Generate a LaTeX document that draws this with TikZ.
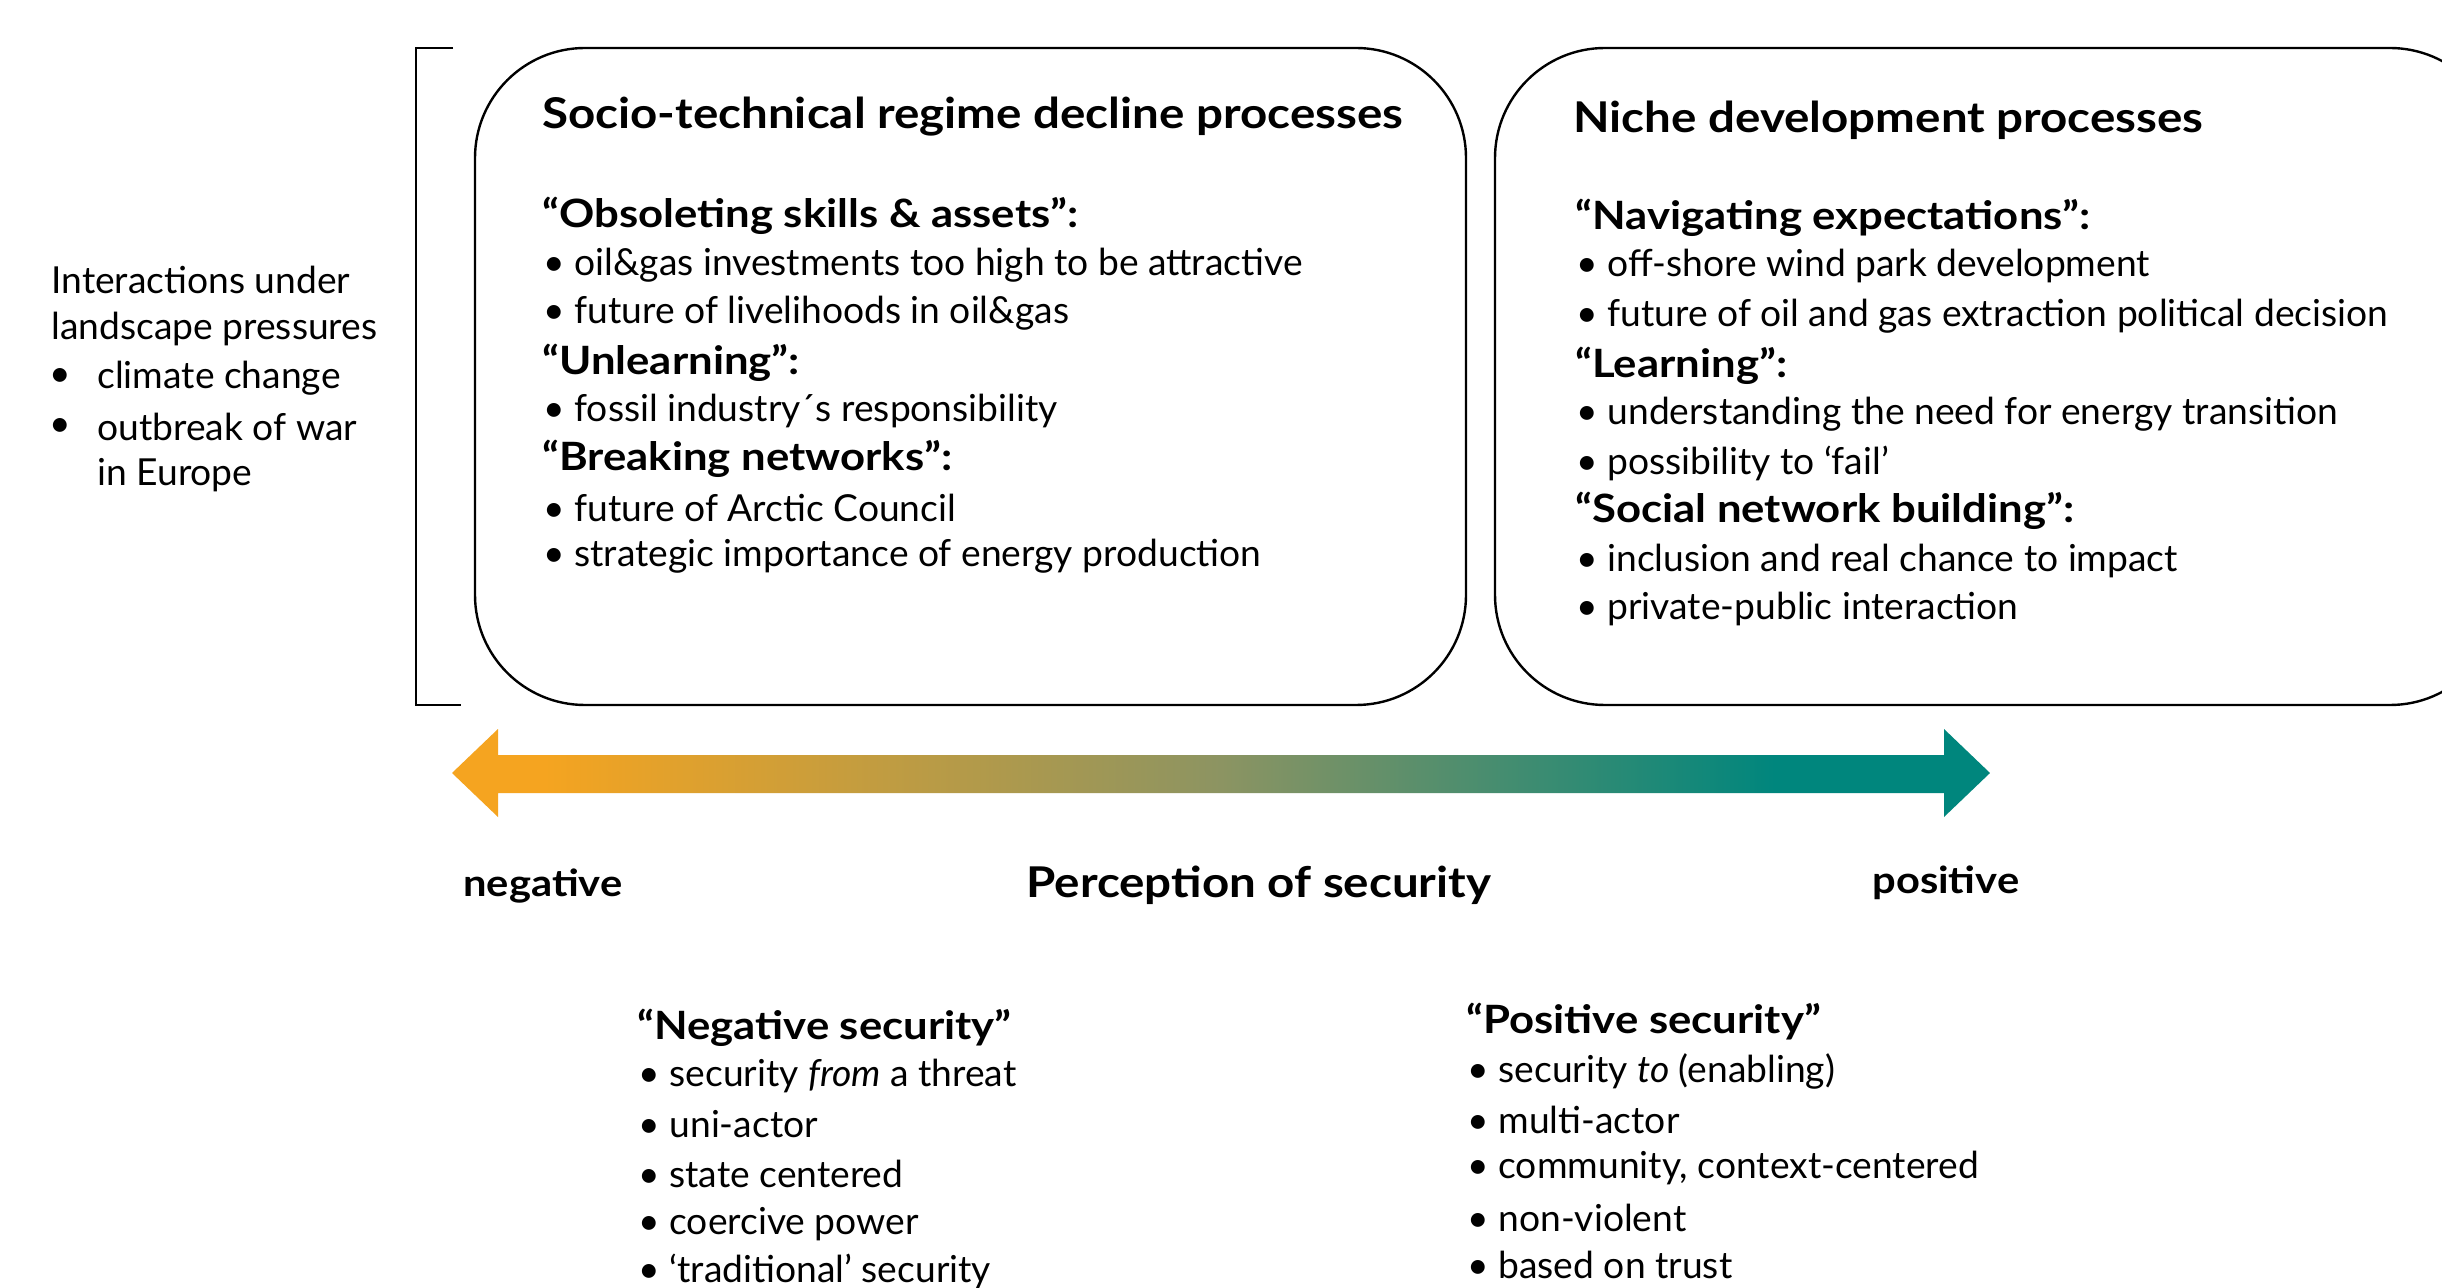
\documentclass[tikz,border=0pt]{standalone}
\usepackage{fontspec}
\setmainfont{Lato}[BoldFeatures={FakeStretch=1.12}]
\definecolor{arrO}{RGB}{245,164,32}
\definecolor{arrM}{RGB}{140,148,98}
\definecolor{arrT}{RGB}{0,134,125}
\pgfdeclarehorizontalshading{arrowshade}{100bp}{color(0bp)=(arrO); color(28bp)=(arrO); color(50bp)=(arrM); color(68bp)=(arrT); color(100bp)=(arrT)}
\begin{document}
\begin{tikzpicture}[x=0.5pt,y=-0.5pt,
  body/.style={anchor=west, inner sep=0pt, font=\fontsize{18.6}{22}\selectfont},
  head/.style={anchor=west, inner sep=0pt, font=\fontsize{19.5}{23}\selectfont\bfseries},
  axlab/.style={anchor=west, inner sep=0pt, font=\fontsize{18.6}{22}\selectfont\bfseries},
  ttl/.style={anchor=west, inner sep=0pt, font=\fontsize{21.2}{25}\selectfont\bfseries},
  procbox/.style={draw=black, line width=1.2pt, rounded corners=55pt, fill=white},
  brk/.style={draw=black, line width=1.2pt}]
\useasboundingbox (0,0) rectangle (2442,1288);
\clip (0,0) rectangle (2442,1288);
\fill[white] (0,0) rectangle (2442,1288);
% bracket
\coordinate (bT) at (453,48);
\coordinate (bB) at (461,705);
\draw[brk] (bT) -- (416,48) -- (416,705) -- (bB);
% boxes
\draw[procbox] (475,48) rectangle (1466,705);
\node[inner sep=0pt] (boxL) at (970,376) {};
\draw[procbox] (1495,48) rectangle (2500,705);
\node[inner sep=0pt] (boxR) at (1997,376) {};
% left box text
\node[ttl]  (lt)  at (542,117) {Socio-technical regime decline processes};
\node[head] (l1)  at (542,216) {“Obsoleting skills \& assets”:};
\node[body] (l2)  at (543,265) {• oil\&gas investments too high to be attractive};
\node[body] (l3)  at (543,313) {• future of livelihoods in oil\&gas};
\node[head] (l4)  at (542,363) {“Unlearning”:};
\node[body] (l5)  at (543,411) {• fossil industry´s responsibility};
\node[head] (l6)  at (542,459) {“Breaking networks”:};
\node[body] (l7)  at (543,508) {• future of Arctic Council};
\node[body] (l8)  at (543,556) {• strategic importance of energy production};
% right box text
\node[ttl]  (rt)  at (1573,120) {Niche development processes};
\node[head] (r1)  at (1575,218) {“Navigating expectations”:};
\node[body] (r2)  at (1576,266) {• off-shore wind park development};
\node[body] (r3)  at (1576,316) {• future of oil and gas extraction political decision};
\node[head] (r4)  at (1575,366) {“Learning”:};
\node[body] (r5)  at (1576,414) {• understanding the need for energy transition};
\node[body] (r6)  at (1576,463) {• possibility to ‘fail’};
\node[head] (r7)  at (1575,511) {“Social network building”:};
\node[body] (r8)  at (1576,561) {• inclusion and real chance to impact};
\node[body] (r9)  at (1576,609) {• private-public interaction};
% landscape text
\node[body] (s1) at (51,280) {Interactions under};
\node[body] (s2) at (51,329) {landscape pressures};
\node[body] (s3b) at (49,378) {•};
\node[body] (s3) at (97,378) {climate change};
\node[body] (s4b) at (49,427) {•};
\node[body] (s4) at (97,427) {outbreak of war};
\node[body] (s5) at (97,475) {in Europe};
% gradient arrow
\shade[shading=arrowshade] (452,773) -- (498,729) -- (498,755) -- (1944,755) -- (1944,729)
  -- (1990,773) -- (1944,817) -- (1944,793) -- (498,793) -- (498,817) -- cycle;
\node[inner sep=0pt] (arr) at (1221,773) {};
% axis labels
\node[axlab] (neg) at (463,886) {negative};
\node[ttl]   (per) at (1026,885) {Perception of security};
\node[axlab] (pos) at (1872,883) {positive};
% negative security
\node[head] (n0) at (637,1028) {“Negative security”};
\node[body] (n1) at (638,1076) {• security \textit{from} a threat};
\node[body] (n2) at (638,1124) {• uni-actor};
\node[body] (n3) at (638,1174) {• state centered};
\node[body] (n4) at (638,1224) {• coercive power};
\node[body] (n5) at (638,1271) {• ‘traditional’ security};
% positive security
\node[head] (p0) at (1466,1022) {“Positive security”};
\node[body] (p1) at (1467,1071) {• security \textit{to} (enabling)};
\node[body] (p2) at (1467,1120) {• multi-actor};
\node[body] (p3) at (1467,1168) {• community, context-centered};
\node[body] (p4) at (1467,1218) {• non-violent};
\node[body] (p5) at (1467,1265) {• based on trust};
\end{tikzpicture}
\end{document}
